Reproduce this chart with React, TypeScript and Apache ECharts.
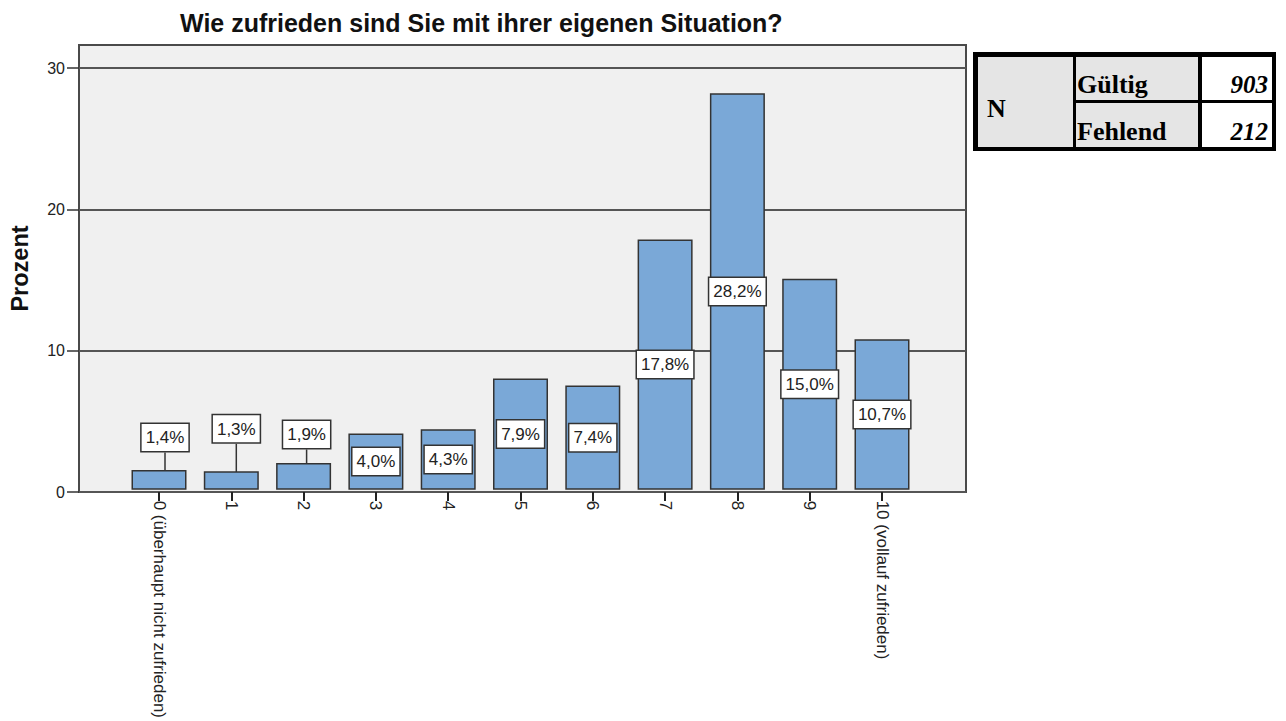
import React, { useEffect, useRef } from "react";
import * as echarts from "echarts";

const categories = [
  "0 (überhaupt nicht zufrieden)",
  "1",
  "2",
  "3",
  "4",
  "5",
  "6",
  "7",
  "8",
  "9",
  "10 (vollauf zufrieden)",
];
const percentValues = [1.4, 1.3, 1.9, 4.0, 4.3, 7.9, 7.4, 17.8, 28.2, 15.0, 10.7];
const yTicks = [0, 10, 20, 30];
const titleText = "Wie zufrieden sind Sie mit ihrer eigenen Situation?";
const yAxisName = "Prozent";
const tableHeader = "N";
const tableRowLabels = ["Gültig", "Fehlend"];
const tableRowValues = [903, 212];

// label shifts (layout only) for the small bars whose labels sit above them
const outsideShift: Record<number, [number, number]> = {
  0: [6, -14],
  1: [5, -24],
  2: [3, -10],
};

const fmt = (v: number) => v.toFixed(1).replace(".", ",") + "%";

export default function App() {
  const ref = useRef<HTMLDivElement>(null);

  useEffect(() => {
    if (!ref.current) return;
    const chart = echarts.init(ref.current, undefined, { renderer: "svg" });

    const frameLeft = 79;
    const frameTop = 45;
    const frameWidth = 887;
    const frameHeight = 447;
    const band = 72.3;
    const firstCenter = 159;
    const barsLeft = firstCenter - band / 2;
    const yMax = 31.63;
    const sans = "'Liberation Sans', Arial, sans-serif";

    const barData = percentValues.map((v, i) => {
      const outside = outsideShift[i] !== undefined;
      return {
        value: v,
        label: { position: outside ? "top" : "inside" },
        labelLine: { show: outside },
      };
    });

    // table graphics
    const tX = 973, tY = 52, tW = 303, tH = 99;
    const rowTops = [57, 103];
    const rowHeights = [43, 44];
    const serif = "'Liberation Serif', 'Times New Roman', serif";
    const graphics: any[] = [
      { type: "rect", shape: { x: tX, y: tY, width: tW, height: tH }, style: { fill: "#000" } },
      { type: "rect", shape: { x: 978, y: 57, width: 95, height: 90 }, style: { fill: "#e5e5e5" } },
      {
        type: "text",
        x: 987,
        y: 108,
        style: {
          text: tableHeader,
          fontFamily: serif,
          fontWeight: "bold",
          fontSize: 26,
          fill: "#000",
          align: "left",
          verticalAlign: "middle",
        },
      },
    ];
    tableRowLabels.forEach((lab, r) => {
      graphics.push({
        type: "rect",
        shape: { x: 1076, y: rowTops[r], width: 122, height: rowHeights[r] },
        style: { fill: "#e5e5e5" },
      });
      graphics.push({
        type: "rect",
        shape: { x: 1202, y: rowTops[r], width: 70, height: rowHeights[r] },
        style: { fill: "#fff" },
      });
      graphics.push({
        type: "text",
        x: 1077,
        y: rowTops[r] + rowHeights[r] - 16,
        style: {
          text: lab,
          fontFamily: serif,
          fontWeight: "bold",
          fontSize: 26,
          fill: "#000",
          align: "left",
          verticalAlign: "middle",
        },
      });
      graphics.push({
        type: "text",
        x: 1268,
        y: rowTops[r] + rowHeights[r] - 16,
        style: {
          text: String(tableRowValues[r]),
          fontFamily: serif,
          fontWeight: "bold",
          fontStyle: "italic",
          fontSize: 25,
          fill: "#000",
          align: "right",
          verticalAlign: "middle",
        },
      });
    });

    const option: any = {
      animation: false,
      backgroundColor: "#ffffff",
      title: {
        text: titleText,
        left: 180,
        top: 10,
        padding: 0,
        textStyle: {
          fontFamily: sans,
          fontWeight: "bold",
          fontSize: 25,
          color: "#111",
        },
      },
      grid: [
        {
          left: frameLeft,
          top: frameTop,
          width: frameWidth,
          height: frameHeight,
          show: true,
          backgroundColor: "#f0f0f0",
          borderColor: "#4a4a4a",
          borderWidth: 2,
        },
        {
          left: barsLeft,
          top: frameTop,
          width: band * categories.length,
          height: frameHeight,
          show: false,
        },
        {
          // strip just below the frame, used for the category tick marks
          left: firstCenter,
          top: frameTop + frameHeight,
          width: band * (categories.length - 1),
          height: 9,
          show: false,
        },
      ],
      xAxis: [
        {
          gridIndex: 0,
          type: "value",
          min: 0,
          max: 1,
          show: false,
        },
        {
          gridIndex: 1,
          type: "category",
          position: "bottom",
          data: categories,
          boundaryGap: true,
          axisLine: { show: false, onZero: false },
          splitLine: { show: false },
          axisTick: { show: false },
          axisLabel: {
            interval: 0,
            rotate: -90,
            margin: 11,
            fontSize: 17,
            fontFamily: sans,
            color: "#222",
          },
        },
        {
          gridIndex: 2,
          type: "category",
          data: categories,
          boundaryGap: false,
          axisLine: { show: false, onZero: false },
          axisTick: { show: false },
          axisLabel: { show: false },
          splitLine: {
            show: true,
            interval: 0,
            lineStyle: { color: "#222", width: 2 },
          },
        },
      ],
      yAxis: [
        {
          gridIndex: 0,
          type: "value",
          min: 0,
          max: yMax,
          name: yAxisName,
          nameLocation: "middle",
          nameGap: 47,
          nameTextStyle: {
            fontFamily: sans,
            fontWeight: "bold",
            fontSize: 23.5,
            color: "#111",
          },
          axisLine: { show: false, onZero: false },
          axisTick: {
            show: true,
            customValues: yTicks,
            length: 12,
            lineStyle: { color: "#333", width: 1.5 },
          },
          axisLabel: {
            customValues: yTicks,
            margin: 14,
            fontSize: 16,
            fontFamily: sans,
            color: "#222",
          },
          splitLine: {
            show: true,
            lineStyle: { color: "#555", width: 2 },
          },
        },
        {
          gridIndex: 1,
          type: "value",
          min: 0,
          max: yMax,
          show: false,
          splitLine: { show: false },
        },
        {
          gridIndex: 2,
          type: "value",
          min: 0,
          max: 1,
          show: false,
          splitLine: { show: false },
        },
      ],
      series: [
        {
          type: "bar",
          xAxisIndex: 1,
          yAxisIndex: 1,
          barWidth: 55,
          data: barData,
          itemStyle: {
            color: "#7aa8d7",
            borderColor: "#333",
            borderWidth: 1.5,
          },
          label: {
            show: true,
            formatter: (p: any) => fmt(p.value),
            backgroundColor: "#ffffff",
            borderColor: "#333",
            borderWidth: 1.5,
            padding: [4, 4, 3, 4],
            lineHeight: 20,
            fontSize: 17,
            fontFamily: sans,
            color: "#222",
          },
          labelLine: {
            show: false,
            lineStyle: { color: "#333", width: 1.5 },
          },
          labelLayout: (params: any) => {
            const s = outsideShift[params.dataIndex];
            if (!s) return {};
            return { dx: s[0], dy: s[1] };
          },
        },
      ],
      graphic: graphics,
    };

    chart.setOption(option);
    return () => chart.dispose();
  }, []);

  return (
    <div
      ref={ref}
      style={{ position: "fixed", left: 0, top: 0, width: 1286, height: 721, background: "#fff" }}
    />
  );
}
